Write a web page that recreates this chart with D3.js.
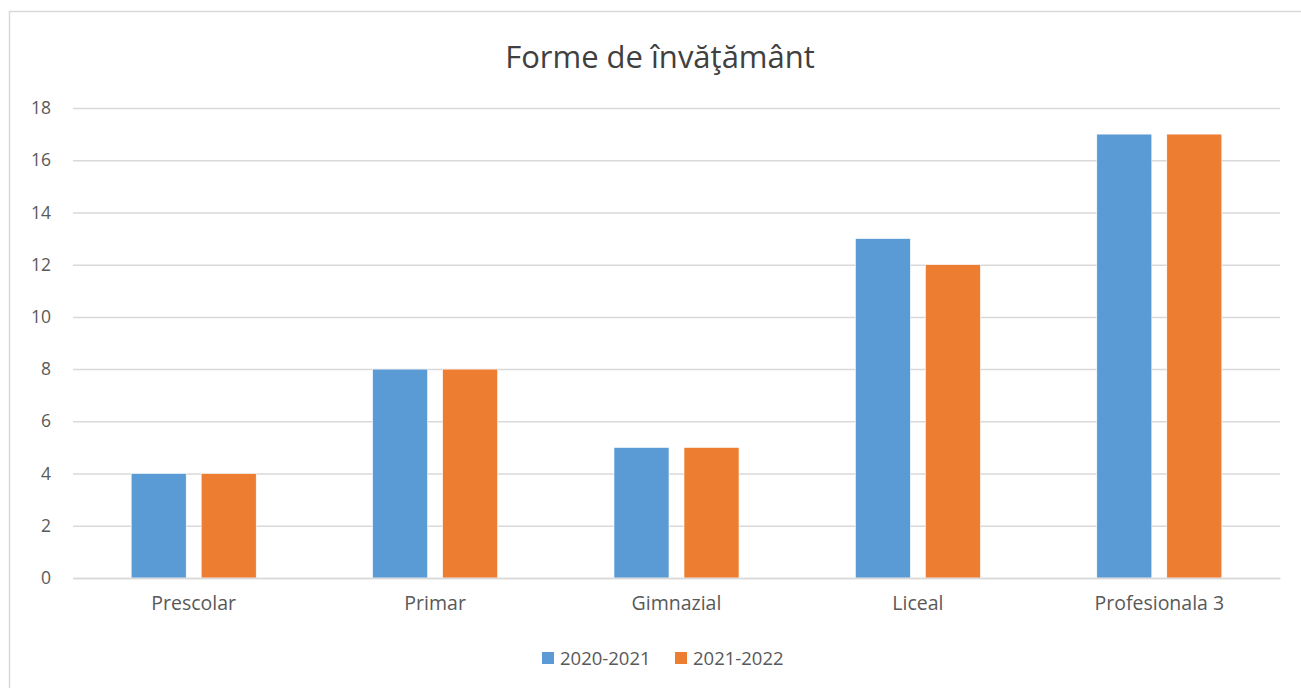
<!DOCTYPE html>
<html><head><meta charset="utf-8">
<script src="https://cdn.jsdelivr.net/npm/d3@7"></script>
<style>body{margin:0;background:#fff}svg{display:block}text{font-family:"Open Sans",sans-serif;fill:#595959}</style>
</head><body><svg id="c" width="1301" height="688"></svg>
<script>
const categories = ["Prescolar","Primar","Gimnazial","Liceal","Profesionala 3"];
const seriesNames = ["2020-2021","2021-2022"];
const values2020 = [4,8,5,13,17];
const values2021 = [4,8,5,12,17];
const yTicks = [0,2,4,6,8,10,12,14,16,18];
const colors = ["#5B9BD5","#ED7D31"];
const title = "Forme de învăţământ";

const svg = d3.select("#c");
svg.append("rect").attr("x",9.5).attr("y",11.5).attr("width",1300).attr("height",690)
  .attr("fill","#fff").attr("stroke","#D9D9D9").attr("stroke-width",1.5);

const L=73,R=1280,T=108,B=578;
const x = d3.scaleBand().domain(categories).range([L,R]).paddingInner(0).paddingOuter(0);
const y = d3.scaleLinear().domain([0,18]).range([B,T]);
const x1 = d3.scaleBand().domain(seriesNames).range([0,x.bandwidth()]).paddingInner(0.214).paddingOuter(0.831);

svg.append("text").attr("x",660).attr("y",68).attr("text-anchor","middle")
  .style("font-size","31px").style("fill","#404040").text(title);

const ya = svg.append("g").attr("transform",`translate(${L},0)`)
  .call(d3.axisLeft(y).tickValues(yTicks).tickSize(-(R-L)).tickPadding(22));
ya.select(".domain").remove();
ya.selectAll(".tick line").attr("stroke","#D9D9D9").attr("stroke-width",1.5);
ya.selectAll(".tick text").style("font-size","17.5px").style("fill","#595959").attr("font-family",null);

const data = [values2020, values2021];
categories.forEach((c,i)=>{
  seriesNames.forEach((s,j)=>{
    const v = data[j][i];
    svg.append("rect").attr("x",x(c)+x1(s)).attr("y",y(v))
      .attr("width",x1.bandwidth()).attr("height",y(0)-y(v))
      .attr("fill",colors[j]).attr("stroke","#fff").attr("stroke-width",0.6);
  });
});

const xa = svg.append("g").attr("transform",`translate(0,${B})`)
  .call(d3.axisBottom(x).tickSize(0).tickPadding(18));
xa.select(".domain").attr("stroke","#D9D9D9").attr("stroke-width",1.5);
xa.selectAll(".tick text").style("font-size","19.5px").style("fill","#595959").attr("font-family",null);

const lg = svg.append("g");
const lgPos = [542,675];
seriesNames.forEach((s,j)=>{
  lg.append("rect").attr("x",lgPos[j]).attr("y",652).attr("width",12).attr("height",12).attr("fill",colors[j]);
  lg.append("text").attr("x",lgPos[j]+18).attr("y",665).style("font-size","18.5px").text(s);
});
</script></body></html>
